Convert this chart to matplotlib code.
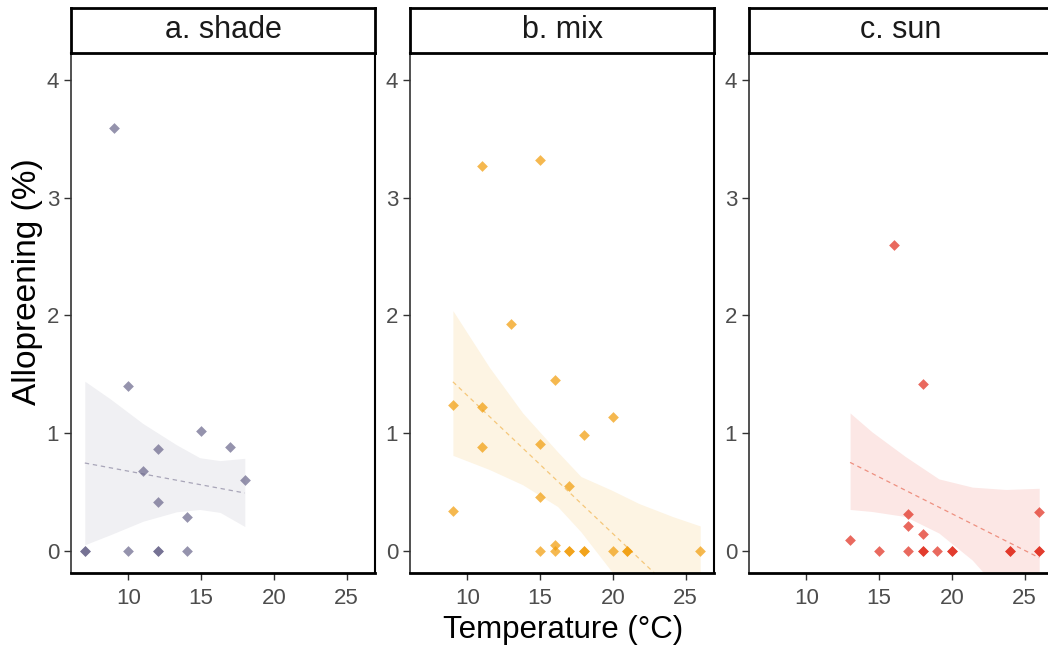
import numpy as np
import matplotlib.pyplot as plt

plt.rcParams['font.family'] = ['Liberation Sans', 'DejaVu Sans']

# allopreening (%) vs temperature, one panel per habitat
panel_titles = ["a. shade", "b. mix", "c. sun"]

shade_temp = [7, 7, 9, 10, 10, 11, 12, 12, 12, 12, 14, 14, 15, 17, 18]
shade_allo = [0, 0, 3.59, 1.40, 0, 0.68, 0.86, 0.41, 0, 0, 0.29, 0, 1.02, 0.88, 0.60]

mix_temp = [9, 9, 11, 11, 11, 13, 15, 15, 15, 15, 16, 16, 16, 17, 17, 17, 18, 18, 18, 20, 20, 21, 21, 26]
mix_allo = [1.24, 0.34, 3.27, 1.22, 0.88, 1.93, 3.32, 0.91, 0.46, 0, 1.45, 0.05, 0, 0.55, 0, 0,
            0.98, 0, 0, 1.14, 0, 0, 0, 0]

sun_temp = [13, 15, 16, 17, 17, 17, 18, 18, 18, 18, 19, 20, 20, 24, 24, 26, 26, 26]
sun_allo = [0.09, 0, 2.60, 0.31, 0.21, 0, 1.42, 0.14, 0, 0, 0, 0, 0, 0, 0, 0.33, 0, 0]

# model prediction (dashed) and confidence band
shade_fit_temp = [7, 18]
shade_fit = [0.745, 0.49]
shade_band_temp = [7, 8.75, 11, 13.3, 14.9, 16.3, 18]
shade_upper = [1.44, 1.29, 1.08, 0.90, 0.79, 0.765, 0.785]
shade_lower = [0.05, 0.135, 0.25, 0.33, 0.35, 0.325, 0.205]

mix_fit_temp = [9, 26]
mix_fit = [1.435, -0.56]
mix_band_temp = [9, 11.5, 13.8, 16.2, 17.8, 19.9, 21.8, 24.1, 26]
mix_upper = [2.04, 1.56, 1.17, 0.84, 0.63, 0.515, 0.40, 0.29, 0.21]
mix_lower = [0.81, 0.69, 0.56, 0.375, 0.16, -0.175, -0.5, -0.9, -1.25]

sun_fit_temp = [13, 26]
sun_fit = [0.75, -0.06]
sun_band_temp = [13, 14.5, 16.8, 19.1, 21.4, 23.7, 26]
sun_upper = [1.17, 1.01, 0.80, 0.61, 0.54, 0.52, 0.53]
sun_lower = [0.35, 0.333, 0.29, 0.15, -0.08, -0.4, -0.8]

panels = [
    (shade_temp, shade_allo, shade_fit_temp, shade_fit, shade_band_temp, shade_upper, shade_lower),
    (mix_temp, mix_allo, mix_fit_temp, mix_fit, mix_band_temp, mix_upper, mix_lower),
    (sun_temp, sun_allo, sun_fit_temp, sun_fit, sun_band_temp, sun_upper, sun_lower),
]
point_colors = ["#69658A", "#F19B05", "#E0291A"]
band_colors = ["#F0F0F3", "#FDF4E3", "#FCE7E5"]
line_colors = ["#A8A5B8", "#F5C77A", "#EE9080"]

W, H = 1048, 647
fig = plt.figure(figsize=(W / 100, H / 100), dpi=100)

panel_left = [71, 410, 749]
panel_w = 304
top_px, bottom_px = 53, 573
strip_top = 8

for i, (temp, allo, ft, fv, bt, bu, bl) in enumerate(panels):
    x0 = panel_left[i]
    ax = fig.add_axes([x0 / W, (H - bottom_px) / H, panel_w / W, (bottom_px - top_px) / H])
    ax.fill_between(bt, bl, bu, color=band_colors[i], lw=0, zorder=1)
    ax.plot(ft, fv, color=line_colors[i], lw=0.9, dashes=(3.5, 3), zorder=2)
    ax.scatter(temp, allo, marker="D", s=30, color=point_colors[i], alpha=0.7, lw=0, zorder=3)
    ax.set_xlim(6.05, 26.95)
    ax.set_ylim(-0.19, 4.23)
    ax.set_xticks([10, 15, 20, 25])
    ax.set_yticks([0, 1, 2, 3, 4])
    ax.tick_params(labelsize=16, labelcolor="#4D4D4D", color="#333333", length=5, width=1)
    ax.tick_params(axis="x", pad=6)
    for side in ["top", "right"]:
        ax.spines[side].set_color("black")
        ax.spines[side].set_linewidth(1.5)
    ax.spines["left"].set_color("#333333")
    ax.spines["left"].set_linewidth(1.2)
    ax.spines["bottom"].set_color("black")
    ax.spines["bottom"].set_linewidth(2)

    # facet strip
    sax = fig.add_axes([x0 / W, (H - top_px) / H, panel_w / W, (top_px - strip_top) / H])
    sax.set_xticks([])
    sax.set_yticks([])
    for sp in sax.spines.values():
        sp.set_linewidth(2)
        sp.set_color("black")
    sax.text(0.5, 0.5, panel_titles[i], ha="center", va="center", fontsize=22,
             color="#1A1A1A", transform=sax.transAxes)

fig.text(563 / W, 1 - 630 / H, "Temperature (°C)", ha="center", va="center", fontsize=22.5)
fig.text(28 / W, 1 - 282 / H, "Allopreening (%)", ha="center", va="center", fontsize=24,
         rotation=90)

plt.savefig("out.png", dpi=100)
